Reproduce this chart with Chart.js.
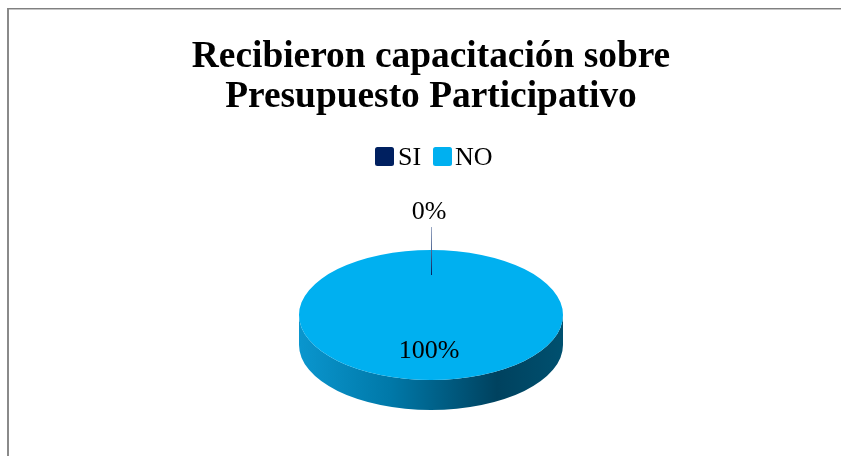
<!DOCTYPE html>
<html>
<head>
<meta charset="utf-8">
<script src="https://cdn.jsdelivr.net/npm/chart.js@4/dist/chart.umd.min.js"></script>
<style>
html,body{margin:0;padding:0;background:#fff;width:841px;height:456px;overflow:hidden}
#wrap{position:absolute;left:7px;top:8px;width:834px;height:448px;overflow:hidden;border-left:2px solid #8a8a8a;border-top:1px solid #808080;box-shadow:inset 0 1px 0 #c4c4c4;box-sizing:border-box}
canvas{display:block;margin-left:-1px}
</style>
</head>
<body>
<div id="wrap"><canvas id="c" width="846" height="447" style="width:846px;height:447px"></canvas></div>
<script>
const titleLines = ['Recibieron capacitación sobre', 'Presupuesto Participativo'];
const categories = ['SI', 'NO'];
const values = [0, 100];
const valueLabels = ['0%', '100%'];
const colors = ['#002060', '#00B0F0'];

const FONT = '"Liberation Serif", "Times New Roman", serif';
const CENTER_Y = 306, FLATTEN = 65 / 132, DEPTH = 30;

const tiltedPie = {
  id: 'tiltedPie',
  beforeDatasetsDraw(chart) {
    const arc = chart.getDatasetMeta(0).data[1];
    const rx = arc.outerRadius, ry = rx * FLATTEN, ctx = chart.ctx;
    // side wall of the disc
    const g = ctx.createLinearGradient(arc.x - rx, 0, arc.x + rx, 0);
    g.addColorStop(0, '#0A96CE');
    g.addColorStop(0.35, '#0078A8');
    g.addColorStop(0.75, '#00425F');
    g.addColorStop(1, '#00506F');
    ctx.save();
    ctx.beginPath();
    ctx.ellipse(arc.x, CENTER_Y, rx, ry, 0, Math.PI, 0, true);
    ctx.lineTo(arc.x + rx, CENTER_Y + DEPTH);
    ctx.ellipse(arc.x, CENTER_Y + DEPTH, rx, ry, 0, 0, Math.PI, false);
    ctx.closePath();
    ctx.fillStyle = g;
    ctx.fill();
    ctx.restore();
    // top face: the library's arcs, flattened
    ctx.save();
    ctx.translate(0, CENTER_Y);
    ctx.scale(1, FLATTEN);
    ctx.translate(0, -arc.y);
  },
  afterDatasetsDraw(chart) {
    const ctx = chart.ctx;
    ctx.restore();
    const meta = chart.getDatasetMeta(0).data;
    const arc = meta[1];
    // leader line of the 0% slice
    const g = ctx.createLinearGradient(0, 218, 0, 266);
    g.addColorStop(0, '#9AA8C4');
    g.addColorStop(1, '#002060');
    ctx.strokeStyle = g;
    ctx.lineWidth = 1;
    ctx.beginPath();
    ctx.moveTo(Math.round(arc.x) + 0.5, 218);
    ctx.lineTo(Math.round(arc.x) + 0.5, 266);
    ctx.stroke();
    // value labels
    ctx.font = '26px ' + FONT;
    ctx.fillStyle = '#000';
    ctx.textAlign = 'center';
    ctx.textBaseline = 'middle';
    ctx.fillText(valueLabels[0], arc.x - 2, 203);
    ctx.fillText(valueLabels[1], arc.x - 2, 342);
    // legend
    const items = [[367, 390], [425, 447]];
    ctx.textAlign = 'left';
    categories.forEach((name, i) => {
      ctx.fillStyle = colors[i];
      ctx.beginPath();
      ctx.roundRect(items[i][0], 138, 19, 19, 2.5);
      ctx.fill();
      ctx.fillStyle = '#000';
      ctx.fillText(name, items[i][1], 149);
    });
  }
};

new Chart(document.getElementById('c'), {
  type: 'pie',
  data: {
    labels: categories,
    datasets: [{ data: values, backgroundColor: colors, borderWidth: 0 }]
  },
  options: {
    responsive: false,
    animation: false,
    radius: 132,
    plugins: {
      legend: { display: false },
      tooltip: { enabled: false },
      title: {
        display: true,
        text: titleLines,
        color: '#000',
        font: { family: FONT, size: 37.4, weight: 'bold', lineHeight: 1.07 },
        padding: { top: 28, bottom: 10 }
      }
    }
  },
  plugins: [tiltedPie]
});
</script>
</body>
</html>
